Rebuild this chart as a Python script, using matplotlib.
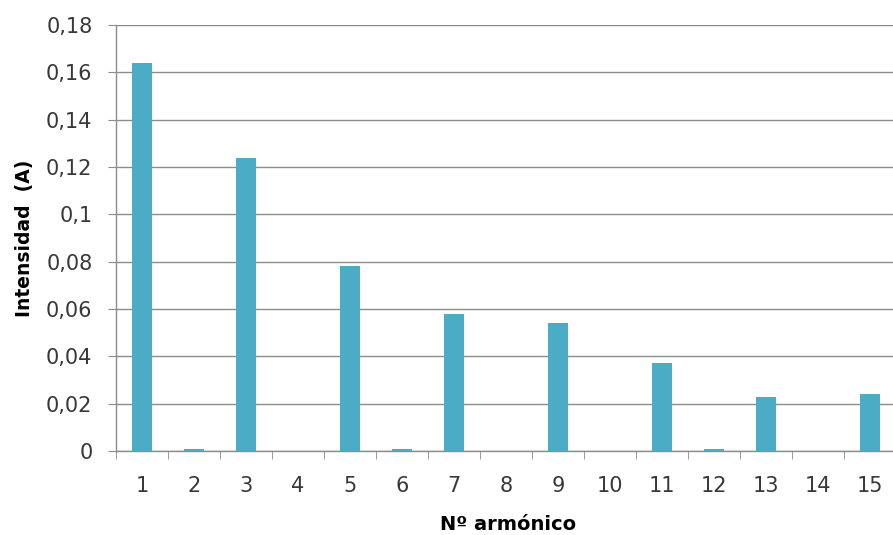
import matplotlib.pyplot as plt
from matplotlib.ticker import FuncFormatter, MultipleLocator

# armónicos de corriente medidos
armonicos = list(range(1, 16))
intensidad = [0.164, 0.0008, 0.124, 0.0, 0.078, 0.0008, 0.058, 0.0,
              0.054, 0.0, 0.037, 0.0008, 0.023, 0.0, 0.024]

plt.rcParams['font.family'] = 'DejaVu Sans'

fig = plt.figure(figsize=(8.93, 5.35), dpi=100)
ax = fig.add_axes([116 / 893, 84 / 535, 780 / 893, 426 / 535])

ax.bar(armonicos, intensidad, width=0.385, color='#4BACC6', zorder=3)

ax.set_xlim(0.5, 15.5)
ax.set_ylim(0, 0.18)
ax.yaxis.set_major_locator(MultipleLocator(0.02))
ax.yaxis.set_major_formatter(FuncFormatter(
    lambda v, p: '0' if abs(v) < 1e-9 else ('%g' % round(v, 2)).replace('.', ',')))
ax.set_xticks(armonicos)
ax.set_xticks([k + 0.5 for k in range(0, 16)], minor=True)

ax.grid(axis='y', color='#8c8c8c', linewidth=1.0, zorder=0)
for s in ['top', 'right']:
    ax.spines[s].set_visible(False)
for s in ['left', 'bottom']:
    ax.spines[s].set_color('#8c8c8c')
    ax.spines[s].set_linewidth(1.0)

ax.tick_params(axis='y', length=6, color='#8c8c8c', labelsize=15,
               labelcolor='#383838', pad=11)
ax.tick_params(axis='x', which='major', length=0, labelsize=15,
               labelcolor='#383838', pad=18)
ax.tick_params(axis='x', which='minor', length=6, color='#8c8c8c')

fig.text(25 / 893, (535 - 238) / 535, 'Intensidad  (A)', rotation=90,
         ha='center', va='center', fontsize=13.5, fontweight='bold')
fig.text(508 / 893, 11 / 535, 'Nº armónico', ha='center', va='center',
         fontsize=14, fontweight='bold')

fig.savefig('out.png', dpi=100)
